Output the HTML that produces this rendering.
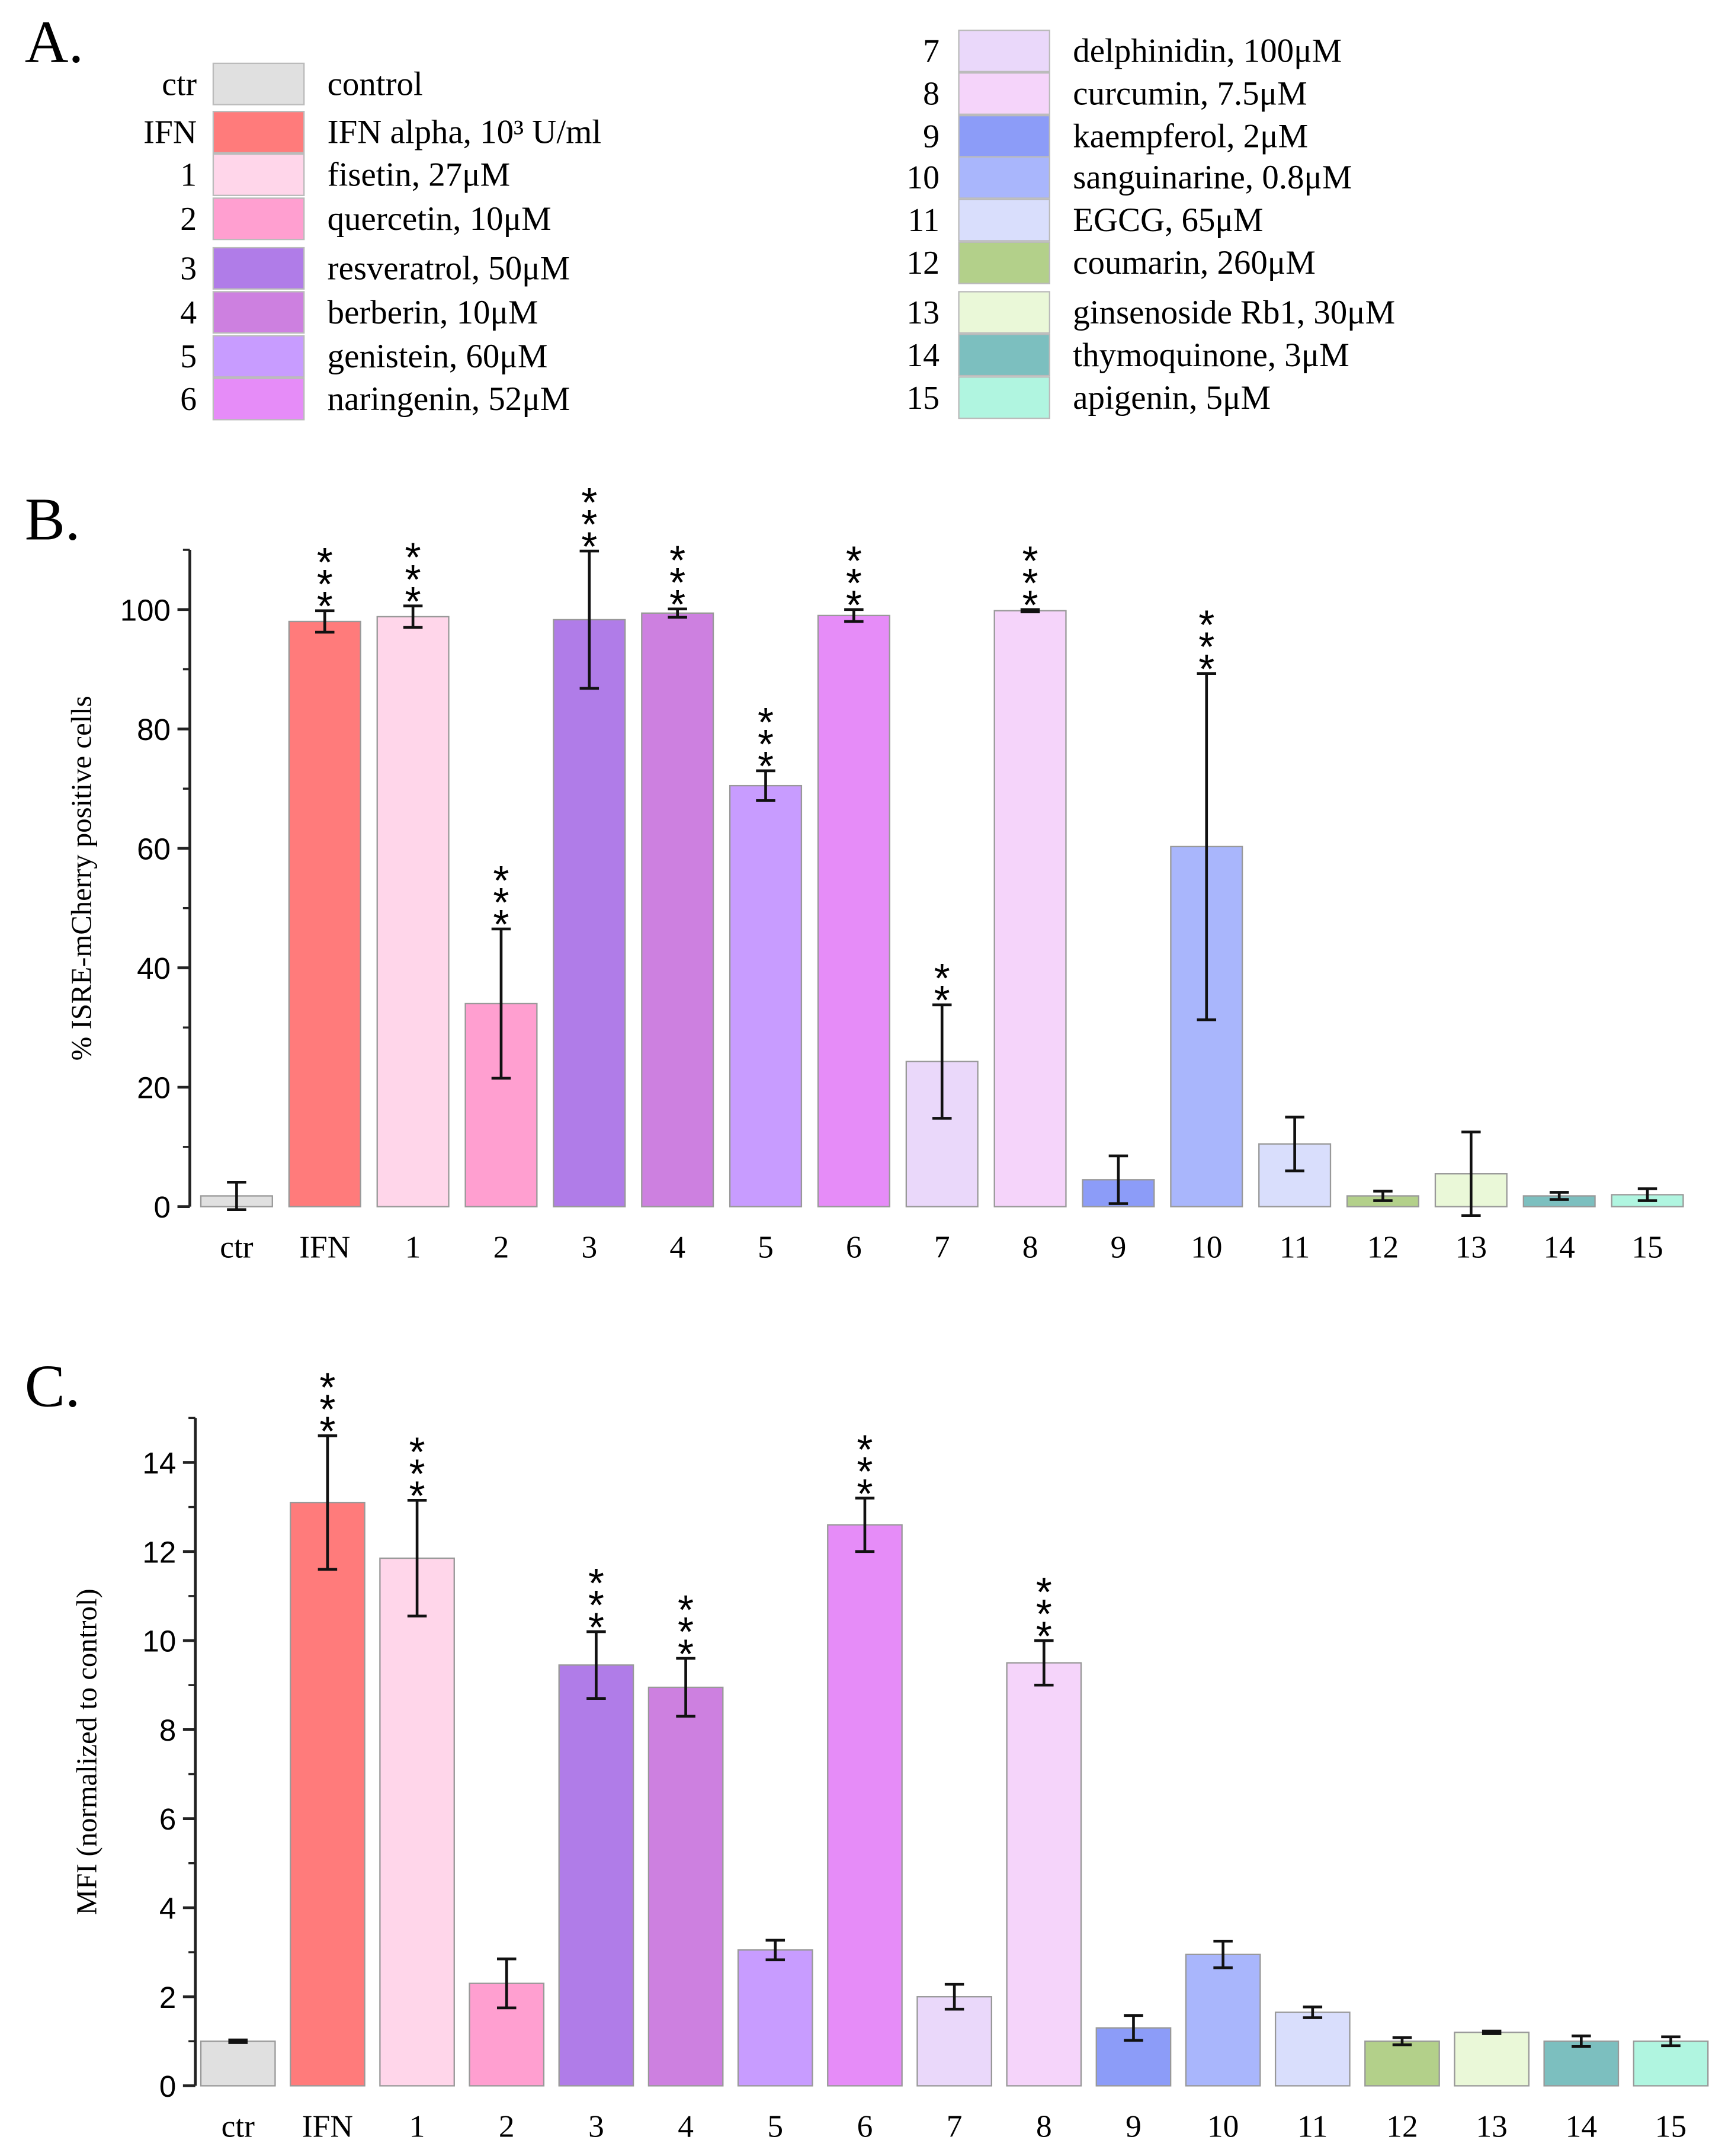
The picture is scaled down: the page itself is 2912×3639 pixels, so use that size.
<!DOCTYPE html>
<html><head><meta charset="utf-8"><style>
html,body{margin:0;padding:0;background:#fff}
svg{display:block}
.serif{font-family:"Liberation Serif",serif}
.sans{font-family:"Liberation Sans",sans-serif}
</style></head><body>
<svg id="fig" width="2912" height="3639" viewBox="0 0 1254 1567" xmlns="http://www.w3.org/2000/svg">
<rect width="1254" height="1567" fill="#fff"/>
<g id="legend"></g>
<g id="chartB"></g>
<g id="chartC"></g>
</svg>
<script>
const categories=["ctr","IFN","1","2","3","4","5","6","7","8","9","10","11","12","13","14","15"];
const colors=["#e0e0e0","#ff7b7b","#ffd6ea","#ff9fd0","#b07ce8","#cd80e0","#c89cff","#e68cf8","#ead8fa","#f5d4fa","#8c9cf8","#a9b6fc","#d9defc","#b3d08a","#eaf8d8","#7cbfbf","#b0f5e0"];
const legendLabels=["control","IFN alpha, 10³ U/ml","fisetin, 27μM","quercetin, 10μM","resveratrol, 50μM","berberin, 10μM","genistein, 60μM","naringenin, 52μM","delphinidin, 100μM","curcumin, 7.5μM","kaempferol, 2μM","sanguinarine, 0.8μM","EGCG, 65μM","coumarin, 260μM","ginsenoside Rb1, 30μM","thymoquinone, 3μM","apigenin, 5μM"];
const valuesB=[1.8,98,98.8,34,98.3,99.4,70.5,99,24.3,99.8,4.5,60.3,10.5,1.8,5.5,1.8,2];
const errorsB=[2.3,1.8,1.8,12.5,11.5,0.7,2.5,1,9.5,0.2,4,29,4.5,0.8,7,0.6,1];
const starsB=[0,3,3,3,3,3,3,3,2,3,0,3,0,0,0,0,0];
const ticksB=[0,20,40,60,80,100];
const valuesC=[1.0,13.1,11.85,2.3,9.45,8.95,3.05,12.6,2.0,9.5,1.3,2.95,1.65,1.0,1.2,1.0,1.0];
const errorsC=[0.03,1.5,1.3,0.55,0.75,0.65,0.22,0.6,0.28,0.5,0.28,0.3,0.12,0.08,0.03,0.12,0.1];
const starsC=[0,3,3,0,3,3,0,3,0,3,0,0,0,0,0,0,0];
const ticksC=[0,2,4,6,8,10,12,14];
const NS="http://www.w3.org/2000/svg";
function mk(parent,tag,attrs,text){const e=document.createElementNS(NS,tag);for(const k in attrs)e.setAttribute(k,attrs[k]);if(text!==undefined)e.textContent=text;parent.appendChild(e);return e;}

const lg=document.getElementById('legend');
let t=mk(lg,'text',{x:18,y:45,'font-size':44,class:'serif'},'A.');


const leftY=[61,96,127,159,195,227,259,290];
const rightY=[37,68,99,129,160,191,227,258,289];
categories.forEach((c,i)=>{
  const left=i<8;const y=left?leftY[i]:rightY[i-8];
  const g=mk(lg,'g',{});
  
  
  mk(g,'text',{x:left?143:683,y:y+8,'font-size':24,'text-anchor':'end',class:'serif'},c);
  mk(g,'rect',{x:left?155:697,y:y-15,width:66,height:30,fill:colors[i],stroke:'#bbb','stroke-width':1});
  mk(g,'text',{x:left?238:780,y:y+8,'font-size':24.5,class:'serif'},legendLabels[i]);
});

function drawChart(gid,opt){
  const g=document.getElementById(gid);
  const y=v=>opt.y0-(v-0)*opt.scale;
  const x=i=>opt.x0+i*opt.step;
  let lab=mk(g,'text',{x:18,y:opt.labelY,'font-size':44,class:'serif'},opt.panel);
  
  
  const ax=mk(g,'line',{x1:opt.ax,x2:opt.ax,y1:y(opt.ymax),y2:y(0),stroke:'#222','stroke-width':2});
  
  
  opt.ticks.forEach((tv)=>{
    mk(g,'line',{x1:opt.ax-9,x2:opt.ax,y1:y(tv),y2:y(tv),stroke:'#222','stroke-width':2});
    const tl=mk(g,'text',{x:opt.ax-14,y:y(tv)+8,'font-size':22,'text-anchor':'end',class:'sans'},String(tv));
    
    
    const mv=tv+opt.minor;if(mv<=opt.ymax) mk(g,'line',{x1:opt.ax-5,x2:opt.ax,y1:y(mv),y2:y(mv),stroke:'#222','stroke-width':1.5});
  });
  const yt=mk(g,'text',{x:0,y:0,'font-size':21,'text-anchor':'middle',class:'serif',transform:`translate(${opt.titleX},${(y(0)+y(opt.ymax))/2}) rotate(-90)`},opt.title);
  
  
  categories.forEach((c,i)=>{
    const v=opt.values[i],e=opt.errors[i],cx=x(i);
    const b=mk(g,'rect',{x:cx-opt.bw/2,y:y(v),width:opt.bw,height:y(0)-y(v),fill:colors[i],stroke:'#999','stroke-width':1});
    
    
    const eb=mk(g,'path',{d:`M${cx},${y(v+e)}V${y(v-e)}M${cx-7},${y(v+e)}H${cx+7}M${cx-7},${y(v-e)}H${cx+7}`,stroke:'#111','stroke-width':2,fill:'none'});
    
    
    const xl=mk(g,'text',{x:cx,y:y(0)+37,'font-size':23,'text-anchor':'middle',class:'serif'},c);
    
    
    for(let s=0;s<opt.stars[i];s++){
      const st=mk(g,'text',{x:cx,y:y(v+e)+7-s*16,'font-size':30,'text-anchor':'middle',class:'sans'},'*');
      
      
    }
  });
}
drawChart('chartB',{panel:'B.',labelY:392,x0:172,step:64.1,bw:52,y0:877,scale:4.34,ymax:110,ax:138,ticks:ticksB,minor:10,values:valuesB,errors:errorsB,stars:starsB,title:'% ISRE-mCherry positive cells',titleX:66});
drawChart('chartC',{panel:'C.',labelY:1022,x0:173,step:65.1,bw:54,y0:1516,scale:32.36,ymax:15,ax:142,ticks:ticksC,minor:1,values:valuesC,errors:errorsC,stars:starsC,title:'MFI (normalized to control)',titleX:70});
</script>
</body></html>
